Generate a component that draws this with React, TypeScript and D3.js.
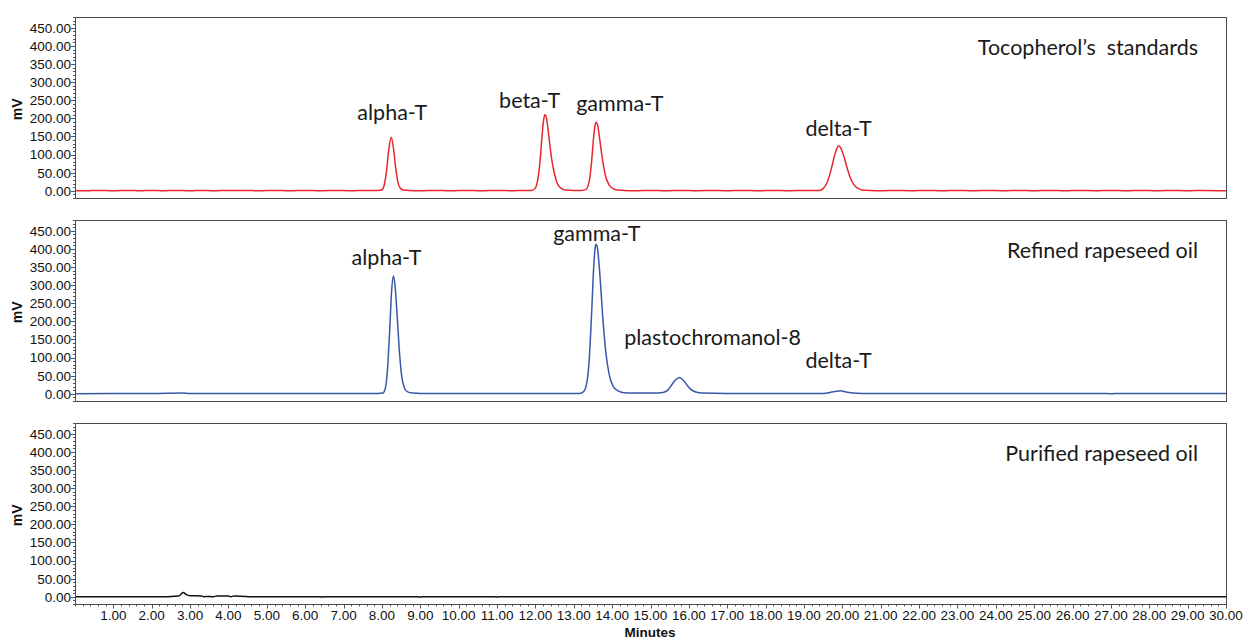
import React from "react";
import * as d3 from "d3";

// ---------- data ----------
const minuteTicks = [1, 2, 3, 4, 5, 6, 7, 8, 9, 10, 11, 12, 13, 14, 15, 16, 17, 18, 19, 20, 21, 22, 23, 24, 25, 26, 27, 28, 29, 30];
const mvTicks = [0, 50, 100, 150, 200, 250, 300, 350, 400, 450];

// Tocopherol standards trace [minutes, mV]
const standardsTrace: [number, number][] = [
  [0, 1], [0.3, 0], [0.6, 1], [1, 0], [1.4, 1], [1.7, 0], [2, 1], [2.3, 0], [2.6, 1], [3, 0], [3.3, 1], [3.6, 0], [4, 1], [4.4, 1], [4.8, 0], [5.2, 1], [5.6, 0], [6, 1], [6.4, 0], [6.8, 1], [7.2, 0], [7.6, 1], [7.9, 1],
  [8.0, 3], [8.06, 16], [8.12, 55], [8.18, 115], [8.24, 148], [8.3, 118], [8.36, 62], [8.42, 22], [8.48, 7], [8.56, 2], [8.7, 1],
  [9, 0], [9.4, 1], [9.8, 0], [10.2, 1], [10.6, 0], [11, 1], [11.4, 0], [11.7, 1], [11.9, 1],
  [12.0, 8], [12.06, 30], [12.12, 80], [12.18, 160], [12.22, 200], [12.25, 210], [12.29, 200], [12.35, 150], [12.42, 90], [12.5, 45], [12.58, 18], [12.68, 6], [12.8, 2], [13.0, 1],
  [13.2, 1], [13.32, 4], [13.4, 25], [13.46, 75], [13.52, 150], [13.56, 183], [13.58, 189], [13.62, 182], [13.68, 140], [13.75, 85], [13.83, 40], [13.92, 16], [14.02, 6], [14.15, 2], [14.3, 1],
  [14.6, 0], [15, 1], [15.4, 0], [15.8, 1], [16.2, 0], [16.6, 1], [17, 0], [17.4, 1], [17.8, 0], [18.2, 1], [18.6, 0], [19, 1], [19.4, 1],
  [19.5, 6], [19.6, 22], [19.7, 55], [19.8, 98], [19.87, 120], [19.91, 124], [19.96, 118], [20.04, 95], [20.12, 65], [20.2, 38], [20.3, 17], [20.4, 7], [20.52, 2], [20.7, 1],
  [21, 0], [21.4, 1], [21.8, 0], [22.2, 1], [22.6, 0], [23, 1], [23.4, 0], [23.8, 1], [24.2, 0], [24.6, 1], [25, 0], [25.4, 1], [25.8, 0], [26.2, 1], [26.6, 0], [27, 1], [27.4, 0], [27.8, 1], [28.2, 0], [28.6, 1], [29, 0], [29.4, 1], [30, 0],
];

// Refined rapeseed oil trace
const refinedTrace: [number, number][] = [
  [0, 0], [1, 1], [2, 1], [2.8, 2], [3, 1], [4, 1], [5, 1], [6, 1], [7, 1], [7.9, 1],
  [8.02, 2], [8.08, 12], [8.14, 60], [8.2, 170], [8.25, 280], [8.3, 325], [8.34, 300], [8.4, 210], [8.46, 110], [8.52, 45], [8.58, 18], [8.66, 6], [8.8, 2], [9.0, 1],
  [10, 1], [11, 1], [12, 1], [13.15, 1],
  [13.25, 5], [13.33, 25], [13.4, 90], [13.46, 210], [13.52, 350], [13.56, 405], [13.58, 413], [13.62, 400], [13.68, 330], [13.75, 220], [13.83, 120], [13.92, 55], [14.02, 22], [14.15, 8], [14.3, 3], [14.5, 2],
  [15.2, 2], [15.35, 4], [15.45, 10], [15.55, 24], [15.65, 38], [15.75, 45], [15.85, 38], [15.95, 24], [16.05, 12], [16.18, 5], [16.35, 2],
  [17, 1], [18, 1], [19, 1], [19.5, 1], [19.7, 4], [19.85, 7], [19.95, 8], [20.1, 5], [20.3, 2], [20.5, 1],
  [22, 1], [24, 1], [26, 1], [26.8, 1], [27, 0], [27.2, 1], [30, 1],
];

// Purified rapeseed oil trace
const purifiedTrace: [number, number][] = [
  [0, 0], [1, 0], [2, 0], [2.45, 0], [2.5, 1], [2.7, 2], [2.82, 12], [2.9, 6], [3.0, 3], [3.3, 2], [3.35, 0], [3.45, 1], [3.6, 0], [3.7, 2], [4.0, 2], [4.05, 0], [4.15, 2], [4.45, 1], [4.5, 0],
  [6.4, 0], [6.45, -1], [6.5, 0], [8.95, 0], [9.0, -1], [9.05, 0], [10.95, 0], [11.0, -1], [11.05, 0], [20, 0], [30, 0],
];

const panelTitles = ["Tocopherol\u2019s  standards", "Refined rapeseed oil", "Purified rapeseed oil"];
const panelColors = ["#e8262c", "#3b57a8", "#111111"];
const panelTraces = [standardsTrace, refinedTrace, purifiedTrace];

// peak annotations: [panel, text, minutes, mV]
const peakLabels: [number, string, number, number][] = [
  [0, "alpha-T", 8.27, 195],
  [0, "beta-T", 11.85, 230],
  [0, "gamma-T", 14.2, 220],
  [0, "delta-T", 19.9, 150],
  [1, "alpha-T", 8.12, 355],
  [1, "gamma-T", 13.6, 422],
  [1, "plastochromanol-8", 16.62, 135],
  [1, "delta-T", 19.9, 71],
];

// ---------- layout ----------
const W = 1245;
const H = 639;
const left = 75;
const right = 1226;
const panelTops = [17, 220, 423];
const panelH = 181;
const annotFont = "Lato, 'Open Sans', sans-serif";
const axisFont = "'Liberation Sans', Arial, sans-serif";

export default function App() {
  const x = d3.scaleLinear().domain([0, 30]).range([left, right]);
  const minorY = d3.range(-20, 481, 10);
  const minorX = d3.range(0, 30.01, 0.2);

  return (
    <svg width={W} height={H} style={{ position: "absolute", left: 0, top: 0, background: "#fff" }}>
      {panelTops.map((top, pi) => {
        const y = d3.scaleLinear().domain([-20, 480]).range([top + panelH, top]);
        const line = d3
          .line<[number, number]>()
          .x((d) => x(d[0]))
          .y((d) => y(d[1]))
          .curve(d3.curveMonotoneX);
        return (
          <g key={pi}>
            <defs>
              <clipPath id={`clip${pi}`}>
                <rect x={left} y={top} width={right - left} height={panelH} />
              </clipPath>
            </defs>
            <path d={line(panelTraces[pi]) || ""} fill="none" stroke={panelColors[pi]} strokeWidth={1.5} clipPath={`url(#clip${pi})`} />
            <rect x={left + 0.5} y={top + 0.5} width={right - left} height={panelH} fill="none" stroke="#4a4a4a" strokeWidth={1} />
            {minorY.map((v) => (
              <line key={"m" + v} x1={left - 2} x2={left} y1={Math.round(y(v)) + 0.5} y2={Math.round(y(v)) + 0.5} stroke="#555" strokeWidth={1} />
            ))}
            {mvTicks.map((v) => (
              <g key={v}>
                <line x1={left - 4} x2={left} y1={Math.round(y(v)) + 0.5} y2={Math.round(y(v)) + 0.5} stroke="#555" strokeWidth={1} />
                <text x={left - 4} y={y(v)} dy="0.36em" textAnchor="end" fontFamily={axisFont} fontSize={13.5} fill="#111">
                  {v.toFixed(2)}
                </text>
              </g>
            ))}
            <text
              transform={`translate(22,${(y(0) + y(450)) / 2}) rotate(-90)`}
              textAnchor="middle"
              fontFamily={axisFont}
              fontWeight="bold"
              fontSize={14}
              fill="#111"
            >
              mV
            </text>
            <text x={1198} y={top + 38} textAnchor="end" fontFamily={annotFont} fontSize={21.5} fill="#1a1a1a" style={{ whiteSpace: "pre" }}>
              {panelTitles[pi]}
            </text>
            {peakLabels
              .filter((p) => p[0] === pi)
              .map((p, i) => (
                <text key={i} x={x(p[2])} y={y(p[3])} textAnchor="middle" fontFamily={annotFont} fontSize={21.5} fill="#1a1a1a">
                  {p[1]}
                </text>
              ))}
          </g>
        );
      })}
      {/* x axis on bottom panel */}
      {(() => {
        const base = panelTops[2] + panelH + 0.5;
        return (
          <g>
            {minorX.map((t, i) => (
              <line key={"mx" + i} x1={Math.round(x(t)) + 0.5} x2={Math.round(x(t)) + 0.5} y1={base} y2={base + 2} stroke="#555" />
            ))}
            {minuteTicks.map((t) => (
              <g key={t}>
                <line x1={Math.round(x(t)) + 0.5} x2={Math.round(x(t)) + 0.5} y1={base} y2={base + 4} stroke="#555" />
                <text x={x(t)} y={base + 15} textAnchor="middle" fontFamily={axisFont} fontSize={13.5} fill="#111">
                  {t.toFixed(2)}
                </text>
              </g>
            ))}
            <text x={650} y={637} textAnchor="middle" fontFamily={axisFont} fontWeight="bold" fontSize={13.5} fill="#111">
              Minutes
            </text>
          </g>
        );
      })()}
    </svg>
  );
}
